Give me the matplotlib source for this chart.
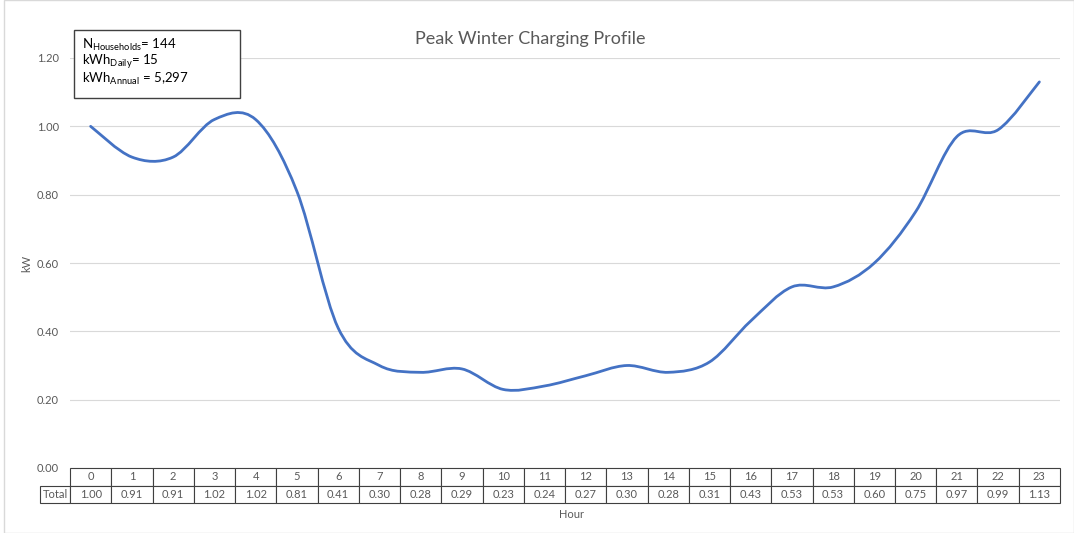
import matplotlib
matplotlib.use('Agg')
import numpy as np
import matplotlib.pyplot as plt
from matplotlib.path import Path
from matplotlib.patches import PathPatch, Rectangle

plt.rcParams['font.family'] = ['Lato', 'DejaVu Sans']
plt.rcParams['mathtext.default'] = 'regular'

hours = list(range(24))
kw = [1.00, 0.91, 0.91, 1.02, 1.02, 0.81, 0.41, 0.30, 0.28, 0.29, 0.23, 0.24,
      0.27, 0.30, 0.28, 0.31, 0.43, 0.53, 0.53, 0.60, 0.75, 0.97, 0.99, 1.13]
row_label = 'Total'
title = 'Peak Winter Charging Profile'
info_lines = [r'N$_{Households}$= 144', r'kWh$_{Daily}$= 15', r'kWh$_{Annual}$ = 5,297']

W, H = 1074, 533
fig = plt.figure(figsize=(W / 100, H / 100), dpi=100)
ax = fig.add_axes([70 / W, 1 - 468 / H, 990 / W, 410 / H])

# smoothed line, excel style bezier through the points
x = np.array(hours, dtype=float)
y = np.array(kw)
xp = np.concatenate([[x[0]], x, [x[-1]]])
yp = np.concatenate([[y[0]], y, [y[-1]]])
verts = [(x[0], y[0])]
codes = [Path.MOVETO]
for i in range(len(x) - 1):
    c1 = (x[i] + (xp[i + 2] - xp[i]) / 6, y[i] + (yp[i + 2] - yp[i]) / 6)
    c2 = (x[i + 1] - (xp[i + 3] - xp[i + 1]) / 6, y[i + 1] - (yp[i + 3] - yp[i + 1]) / 6)
    verts += [c1, c2, (x[i + 1], y[i + 1])]
    codes += [Path.CURVE4] * 3
ax.add_patch(PathPatch(Path(verts, codes), facecolor='none', edgecolor='#4472C4', lw=2.0,
                       capstyle='round', joinstyle='round', zorder=3))

ax.set_xlim(-0.5, 23.5)
ax.set_ylim(0, 1.2)
ax.set_yticks(np.arange(0, 1.21, 0.2))
ax.set_yticklabels([f'{v:.2f}' for v in np.arange(0, 1.21, 0.2)])
ax.set_xticks([])
ax.tick_params(axis='y', length=0, labelsize=8, colors='#595959', pad=8)
ax.grid(axis='y', color='#D9D9D9', lw=0.8)
ax.set_axisbelow(True)
for s in ax.spines.values():
    s.set_visible(False)

tbl = ax.table(cellText=[[f'{v:.2f}' for v in kw]], rowLabels=[row_label],
               colLabels=[str(h) for h in hours], loc='bottom', cellLoc='center',
               colWidths=[1 / 24] * 24)
tbl.auto_set_font_size(False)
tbl.set_fontsize(8)
for (r, c), cell in tbl.get_celld().items():
    cell.set_height(17.5 / 410)
    cell.set_edgecolor('#404040')
    cell.set_linewidth(0.8)
    cell.get_text().set_color('#595959')
    if c == -1:
        cell.set_width(30 / 990)

fig.text(27 / W, 1 - 263 / H, 'kW', fontsize=8, color='#595959', ha='center', va='center',
         rotation=90)
fig.text(571 / W, 1 - 514 / H, 'Hour', fontsize=8, color='#595959', ha='center', va='center')
fig.text(530 / W, 1 - 39 / H, title, fontsize=13, color='#595959', ha='center', va='center')

fig.add_artist(Rectangle((74 / W, 1 - 98 / H), 166 / W, 68 / H, transform=fig.transFigure,
                         facecolor='white', edgecolor='#404040', lw=1))
for i, line in enumerate(info_lines):
    fig.text(82 / W, 1 - (45 + 17 * i) / H, line, fontsize=9.5, color='black', va='center')

fig.add_artist(Rectangle((4 / W, 0), 1 - 4 / W, 1, transform=fig.transFigure,
                         facecolor='none', edgecolor='#D9D9D9', lw=1))

fig.savefig('out.png', dpi=100)
